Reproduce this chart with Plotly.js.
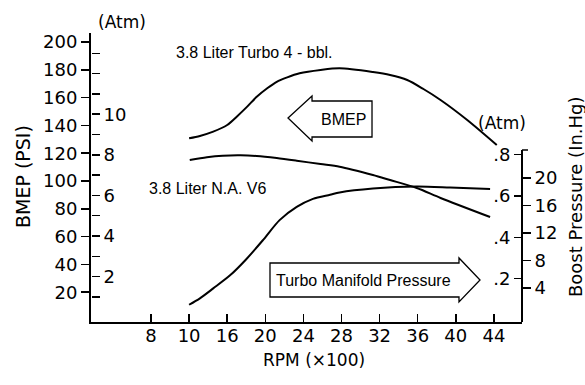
<!DOCTYPE html>
<html>
<head>
<meta charset="utf-8">
<script src="https://cdn.plot.ly/plotly-3.0.1.min.js"></script>
<style>
  html, body { margin: 0; padding: 0; background: #fff; }
  #chart { width: 585px; height: 385px; }
</style>
</head>
<body>
<div id="chart"></div>
<script>
// ---- Data ----
const xTickRPM = [8, 10, 16, 20, 24, 28, 32, 36, 40, 44];   // RPM x100, non-uniform axis

const turboRPM  = [10, 11.7, 13.8, 16, 17, 18.1, 19.1, 20.2, 21.2, 22.3, 23.6, 25.8, 27.8, 31.3, 33.1, 34.9, 36.6, 38.4, 41.2, 44.3];
const turboBMEP = [130.7, 132.4, 135.5, 140.3, 146.3, 153.5, 160.6, 166.7, 171.4, 174.6, 177.5, 179.9, 181.1, 178.4, 176.3, 172.7, 166.2, 158.3, 143.9, 125.9];

const naRPM  = [10.1, 12.8, 15.3, 17.4, 19.1, 21.2, 23.3, 25.8, 27.8, 31.3, 33.1, 35.9, 38.4, 43.6];
const naBMEP = [115.1, 117.1, 118.2, 118.5, 118.0, 116.5, 114.6, 112.2, 110.3, 104.3, 100.7, 95.0, 87.8, 74.1];

const boostRPM = [10, 11.7, 13.8, 16.3, 18.0, 19.8, 21.5, 23.3, 25.0, 26.8, 27.8, 31.3, 35.9, 39.4, 43.6];
const boostAtm = [0.074, 0.105, 0.153, 0.216, 0.294, 0.389, 0.483, 0.547, 0.586, 0.606, 0.617, 0.636, 0.646, 0.641, 0.633];

const bmepTicks   = [20, 40, 60, 80, 100, 120, 140, 160, 180, 200];
const atmLeftTicks = [1, 2, 3, 4, 5, 6, 7, 8, 9, 10, 11, 12, 13];
const atmLeftText  = ['', '2', '', '4', '', '6', '', '8', '', '10', '', '', ''];
const atmRightTicks = [0.2, 0.4, 0.6, 0.8];
const atmRightText  = ['.2', '.4', '.6', '.8'];
const inHgTicks = [4, 8, 12, 16, 20];

const PSI_PER_ATM = 14.7, INHG_PER_ATM = 29.92;

// ---- Scale for the broken RPM axis: RPM -> tick-index position ----
function rpmToPos(r) {
  const t = xTickRPM;
  let i = 0;
  while (i < t.length - 2 && r > t[i + 1]) i++;
  return i + (r - t[i]) / (t[i + 1] - t[i]);
}
const pos = arr => arr.map(rpmToPos);

// ---- Pixel helpers for decorations (plot area 91..522 x, 33..322 y) ----
const L = 91, R = 522, T = 33, B = 322;
const pxX = X => (X - L) / (R - L);
const pxY = Y => (B - Y) / (B - T);
function pathOf(pts) {
  return pts.map((p, k) => (k ? 'L' : 'M') + pxX(p[0]).toFixed(4) + ',' + pxY(p[1]).toFixed(4)).join(' ') + ' Z';
}

const mkLine = () => ({color: '#000', width: 2, shape: 'spline', smoothing: 0.8});

const traces = [
  {x: pos(turboRPM), y: turboBMEP, mode: 'lines', line: mkLine(), xaxis: 'x', yaxis: 'y', hoverinfo: 'skip'},
  {x: pos(naRPM), y: naBMEP, mode: 'lines', line: mkLine(), xaxis: 'x', yaxis: 'y', hoverinfo: 'skip'},
  {x: pos(boostRPM), y: boostAtm, mode: 'lines', line: mkLine(), xaxis: 'x', yaxis: 'y3', hoverinfo: 'skip'},
  // invisible companions so the secondary unit axes are drawn
  {x: pos(turboRPM), y: turboBMEP.map(v => v / PSI_PER_ATM), mode: 'lines', opacity: 0,
   line: {color: 'rgba(0,0,0,0)', width: 0}, xaxis: 'x', yaxis: 'y2', hoverinfo: 'skip'},
  {x: pos(boostRPM), y: boostAtm.map(v => v * INHG_PER_ATM), mode: 'lines', opacity: 0,
   line: {color: 'rgba(0,0,0,0)', width: 0}, xaxis: 'x', yaxis: 'y4', hoverinfo: 'skip'}
];

const tickFont = {family: 'DejaVu Sans', size: 18, color: '#000'};
const txtFont = {family: 'Liberation Sans', size: 16, color: '#000'};
const lblFont = {family: 'DejaVu Sans', size: 17, color: '#000'};

function ann(text, X, Y, font, extra) {
  return Object.assign({text, x: pxX(X), y: pxY(Y), xref: 'paper', yref: 'paper',
    showarrow: false, xanchor: 'center', yanchor: 'middle', font}, extra || {});
}

const layout = {
  width: 585, height: 385,
  margin: {l: L, r: 585 - R, t: T, b: 385 - B, pad: 0},
  paper_bgcolor: '#fff', plot_bgcolor: 'rgba(0,0,0,0)',
  showlegend: false,
  xaxis: {
    range: [rpmToPos(8) - 60 / 38.1, rpmToPos(8) + 371 / 38.1],
    tickvals: xTickRPM.map(rpmToPos), ticktext: xTickRPM.map(String),
    ticks: 'inside', ticklen: 8, tickwidth: 1.5, tickcolor: '#000',
    showline: true, linewidth: 2, linecolor: '#000',
    showgrid: false, zeroline: false, tickfont: tickFont, ticklabelstandoff: -4
  },
  yaxis: {
    range: [-1.44, 206.5], tickvals: bmepTicks,
    ticks: 'outside', ticklen: 8, tickwidth: 1.5, tickcolor: '#000',
    showline: true, linewidth: 2, linecolor: '#000',
    showgrid: false, zeroline: false, tickfont: tickFont
  },
  yaxis2: {
    overlaying: 'y', side: 'right', anchor: 'free', position: 0,
    range: [-0.238, 14.0], tickvals: atmLeftTicks, ticktext: atmLeftText,
    ticks: 'outside', ticklen: 8, tickwidth: 1.5, tickcolor: '#000',
    showline: false, showgrid: false, zeroline: false, tickfont: tickFont
  },
  yaxis3: {
    domain: [0, pxY(150)], anchor: 'free', position: 1, side: 'left',
    range: [-0.0094, 0.822], tickvals: atmRightTicks, ticktext: atmRightText,
    ticks: 'outside', ticklen: 7, tickwidth: 1.5, tickcolor: '#000',
    showline: true, linewidth: 2, linecolor: '#000',
    showgrid: false, zeroline: false, tickfont: tickFont
  },
  yaxis4: {
    overlaying: 'y3', side: 'right', anchor: 'free', position: 1,
    range: [-0.95, 24.07], tickvals: inHgTicks,
    ticks: 'outside', ticklen: 8, tickwidth: 1.5, tickcolor: '#000',
    showline: false, showgrid: false, zeroline: false, tickfont: tickFont
  },
  shapes: [
    {type: 'path', xref: 'paper', yref: 'paper', line: {color: '#000', width: 1.3},
     path: pathOf([[288, 118], [312, 96], [312, 101], [372, 101], [372, 137], [312, 137], [312, 141]])},
    {type: 'path', xref: 'paper', yref: 'paper', line: {color: '#000', width: 1.3},
     path: pathOf([[270, 263], [459, 263], [459, 258], [480, 280], [459, 302], [459, 297], [270, 297]])},
    {type: 'line', xref: 'paper', yref: 'paper', line: {color: '#000', width: 1.5},
     x0: pxX(522), x1: pxX(528), y0: pxY(150), y1: pxY(150)}
  ],
  annotations: [
    ann('(Atm)', 122, 22, lblFont),
    ann('(Atm)', 502, 123, lblFont),
    ann('3.8 Liter Turbo 4 - bbl.', 254, 52, txtFont),
    ann('3.8 Liter N.A. V6', 147, 188, txtFont, {xanchor: 'left'}),
    ann('BMEP', 343, 119, txtFont),
    ann('Turbo Manifold Pressure', 363, 280, txtFont),
    ann('RPM (×100)', 314, 360, lblFont),
    ann('BMEP (PSI)', 23, 177, {family: 'DejaVu Sans', size: 19, color: '#000'}, {textangle: -90}),
    ann('Boost Pressure (In.Hg)', 575, 197, {family: 'DejaVu Sans', size: 18, color: '#000'}, {textangle: -90})
  ]
};

Plotly.newPlot('chart', traces, layout, {staticPlot: true, displayModeBar: false});
</script>
</body>
</html>
